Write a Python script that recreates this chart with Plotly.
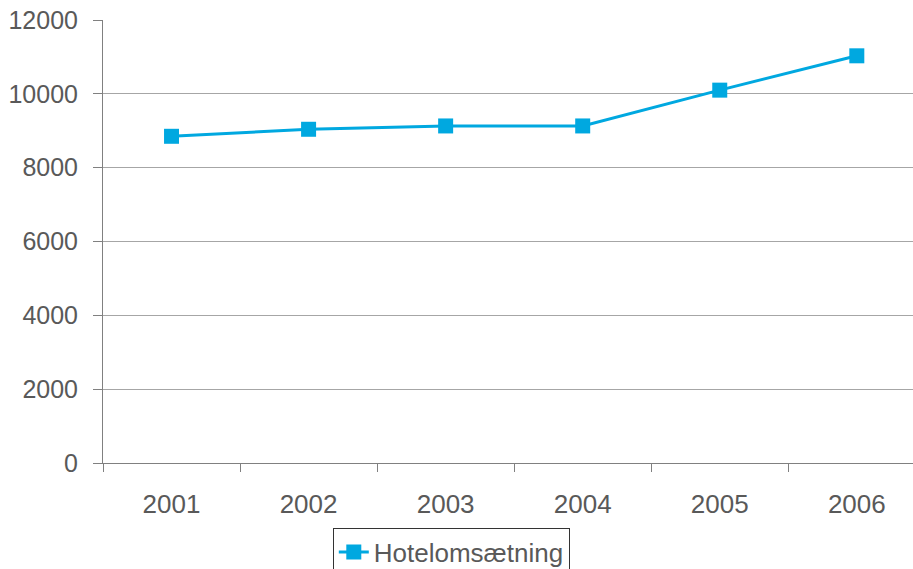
import plotly.graph_objects as go

years = ["2001", "2002", "2003", "2004", "2005", "2006"]
hotel_turnover = [8850, 9040, 9130, 9130, 10100, 11030]
series_name = "Hotelomsætning"
y_ticks = [0, 2000, 4000, 6000, 8000, 10000, 12000]
y_tick_labels = ["0", "2000", "4000", "6000", "8000", "10000", "12000"]

blue = "#00A8E0"
grey_text = "#595959"
grid = "#A6A6A6"
font_family = "Liberation Sans, Arial, sans-serif"

fig = go.Figure()
fig.add_trace(go.Scatter(
    x=years, y=hotel_turnover, name=series_name,
    mode="lines+markers",
    line=dict(color=blue, width=3),
    marker=dict(symbol="square", size=15, color=blue),
    showlegend=True,
))

fig.update_layout(
    width=913, height=569,
    margin=dict(l=103, r=0, t=20, b=106, autoexpand=False),
    paper_bgcolor="white", plot_bgcolor="white",
    font=dict(family=font_family, size=25, color=grey_text),
    showlegend=True,
    legend=dict(
        orientation="h",
        x=0.43, xanchor="center",
        y=-0.146, yanchor="top",
        bordercolor="#333333", borderwidth=1,
        font=dict(size=26, color=grey_text),
        itemwidth=30,
    ),
    xaxis=dict(
        type="category",
        range=[-0.5, 5.41],
        showgrid=False,
        showline=True, linecolor="#808080", linewidth=1,
        ticks="outside", tickson="boundaries", ticklen=8,
        tickcolor="#808080",
        ticklabelstandoff=18,
        tickfont=dict(size=26, color=grey_text),
    ),
    yaxis=dict(
        range=[0, 12000],
        tickvals=y_ticks, ticktext=y_tick_labels,
        showgrid=True, gridcolor=grid, gridwidth=1,
        showline=True, linecolor="#808080", linewidth=1,
        ticks="outside", ticklen=9, tickcolor="#808080",
        ticklabelstandoff=10,
        tickfont=dict(size=25, color=grey_text),
        zeroline=False,
    ),
)

fig.write_html("out.html")
